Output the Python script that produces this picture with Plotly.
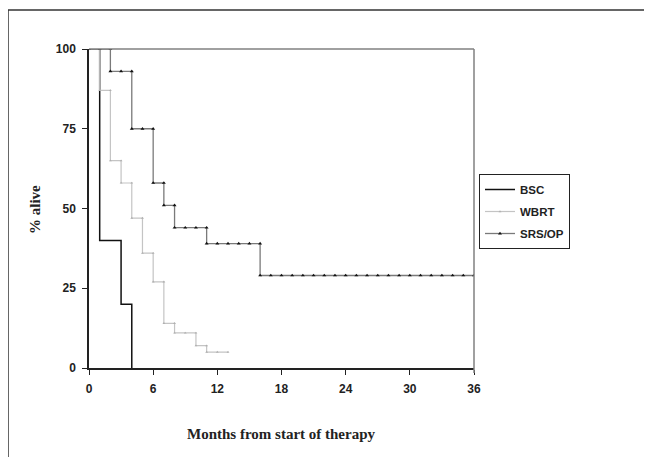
import plotly.graph_objects as go

# Kaplan-Meier style survival data (months, % alive)
bsc_months = [0, 1, 1, 2, 3, 3, 4, 4]
bsc_alive = [100, 100, 40, 40, 40, 20, 20, 0]

wbrt_months = [0, 1, 1, 2, 2, 3, 3, 4, 4, 5, 5, 6, 6, 7, 7, 8, 8, 9, 10, 10, 11, 11, 12, 13]
wbrt_alive = [100, 100, 87, 87, 65, 65, 58, 58, 47, 47, 36, 36, 27, 27, 14, 14, 11, 11, 11, 7, 7, 5, 5, 5]

srs_months = [0, 1, 2, 2, 3, 4, 4, 5, 6, 6, 7, 7, 8, 8, 9, 10, 11, 11, 12, 13, 14, 15, 16, 16,
              17, 18, 19, 20, 21, 22, 23, 24, 25, 26, 27, 28, 29, 30, 31, 32, 33, 34, 35, 36]
srs_alive = [100, 100, 100, 93, 93, 93, 75, 75, 75, 58, 58, 51, 51, 44, 44, 44, 44, 39, 39, 39, 39, 39, 39, 29,
             29, 29, 29, 29, 29, 29, 29, 29, 29, 29, 29, 29, 29, 29, 29, 29, 29, 29, 29, 29]

x_ticks = [0, 6, 12, 18, 24, 30, 36]
y_ticks = [0, 25, 50, 75, 100]

OFF = 8  # default page body margin
W, H = 652 - OFF, 457 - OFF
L, R, T, B = 89, 474, 49, 368  # plot area in page pixels


def px(x):
    return (x - L) / (R - L)


def py(y):
    return (B - y) / (B - T)


fig = go.Figure()
fig.add_trace(go.Scatter(x=bsc_months, y=bsc_alive, name="BSC", mode="lines", legendgroup="a",
                         line=dict(color="#111111", width=1.5)))
fig.add_trace(go.Scatter(x=wbrt_months, y=wbrt_alive, name="WBRT", mode="lines+markers", legendgroup="b",
                         line=dict(color="#c4c4c4", width=1.2),
                         marker=dict(color="#b0b0b0", size=2.5, symbol="triangle-up")))
fig.add_trace(go.Scatter(x=srs_months, y=srs_alive, name="SRS/OP", mode="lines+markers", legendgroup="c",
                         line=dict(color="#7a7a7a", width=1.3),
                         marker=dict(color="#111111", size=3.5, symbol="triangle-up")))

tickfont = dict(family="Liberation Sans, Arial", size=12, color="#222222", weight="bold")

fig.update_layout(
    width=W, height=H,
    margin=dict(l=L - OFF, r=W - (R - OFF), t=T - OFF, b=H - (B - OFF), pad=0),
    paper_bgcolor="white", plot_bgcolor="white",
    showlegend=True,
    legend=dict(x=px(479), y=py(174), xanchor="left", yanchor="top",
                bordercolor="#222222", borderwidth=1, bgcolor="white",
                font=dict(family="Liberation Sans, Arial", size=11.5, color="#222222", weight="bold"),
                itemwidth=30, tracegroupgap=3),
    xaxis=dict(range=[0, 36], tickvals=x_ticks, ticktext=[str(v) for v in x_ticks],
               showgrid=False, zeroline=False, showline=True, linecolor="#222222", linewidth=1.5,
               ticks="outside", ticklen=5, tickcolor="#222222", tickfont=tickfont, ticklabelstandoff=4),
    yaxis=dict(range=[0, 100], tickvals=y_ticks, ticktext=[str(v) for v in y_ticks],
               showgrid=False, zeroline=False, showline=True, linecolor="#222222", linewidth=1.5,
               ticks="outside", ticklen=5, tickcolor="#222222", tickfont=tickfont, ticklabelstandoff=4),
    shapes=[
        # plot area border (top and right, grey)
        dict(type="line", xref="paper", yref="paper", x0=0, x1=1, y0=1, y1=1,
             line=dict(color="#808080", width=1.5)),
        dict(type="line", xref="paper", yref="paper", x0=1, x1=1, y0=py(373), y1=1,
             line=dict(color="#808080", width=1.5)),
        # outer chart frame
        dict(type="line", xref="paper", yref="paper", x0=px(8), x1=px(8), y0=py(457), y1=py(10),
             line=dict(color="#333333", width=1.5)),
        dict(type="line", xref="paper", yref="paper", x0=px(8), x1=px(652), y0=py(10), y1=py(10),
             line=dict(color="#333333", width=1.5)),
    ],
    annotations=[
        dict(text="% alive", xref="paper", yref="paper", x=px(35), y=py(210), showarrow=False,
             textangle=-90, xanchor="center", yanchor="middle",
             font=dict(family="Liberation Serif, Times New Roman", size=15, color="#222222", weight="bold")),
        dict(text="Months from start of therapy", xref="paper", yref="paper", x=px(281), y=py(434),
             showarrow=False, xanchor="center", yanchor="middle",
             font=dict(family="Liberation Serif, Times New Roman", size=15, color="#222222", weight="bold")),
    ],
)

fig.write_html("out.html")
